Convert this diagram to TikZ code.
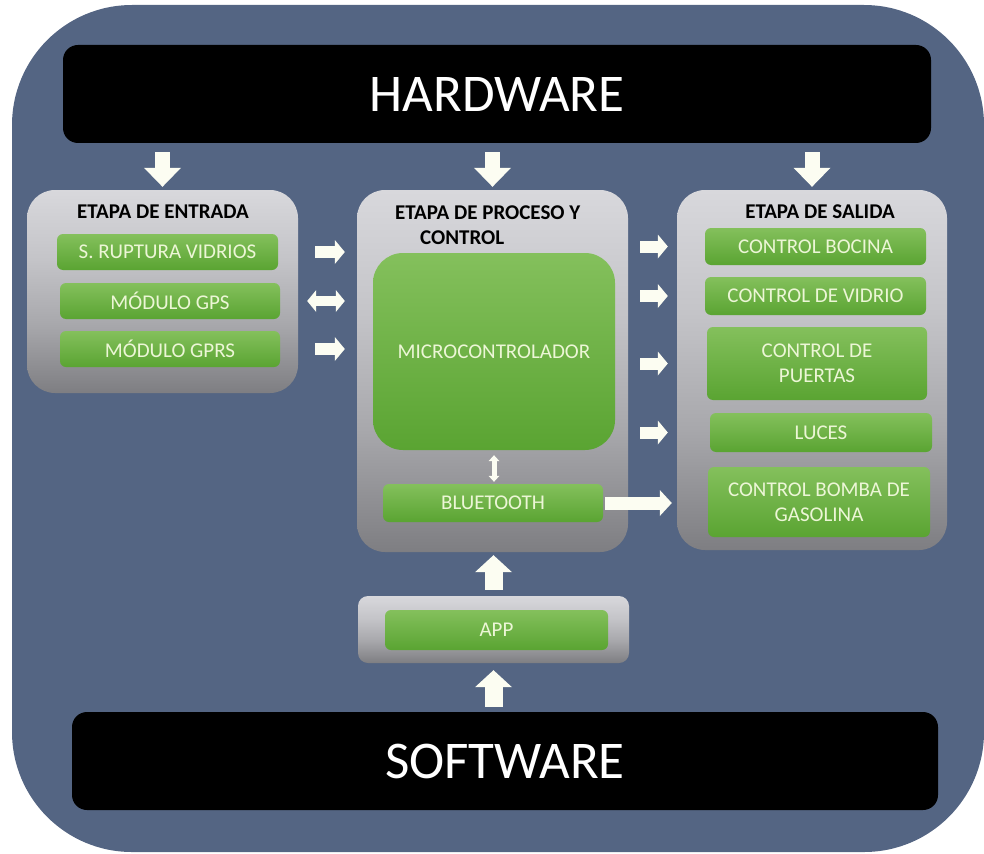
\documentclass[tikz,border=0pt]{standalone}
\usepackage{fontspec}
\setmainfont{Carlito}
\usetikzlibrary{arrows.meta}

\definecolor{bgblue}{RGB}{84,101,131}
\definecolor{gtop}{RGB}{132,192,92}
\definecolor{gbot}{RGB}{90,164,50}
\definecolor{gtext}{RGB}{236,246,214}
\definecolor{arrowwhite}{RGB}{252,253,242}
\definecolor{ptop}{RGB}{216,216,220}
\definecolor{pmid}{RGB}{196,196,200}
\definecolor{plow}{RGB}{168,168,172}
\definecolor{pbot}{RGB}{126,126,130}

% silver panel: light on top, darkening towards the bottom
\pgfdeclareverticalshading{panelshade}{100bp}{%
  color(0bp)=(pbot); color(25bp)=(pbot); color(42bp)=(plow);
  color(58bp)=(pmid); color(75bp)=(ptop); color(100bp)=(ptop)}

\tikzset{
  blackbar/.style={fill=black, rounded corners=15pt, text=white,
    font=\fontsize{53}{60}\selectfont, inner sep=0pt},
  panel/.style={shade, shading=panelshade, rounded corners=28pt, inner sep=0pt},
  greenbox/.style={top color=gtop, bottom color=gbot, rounded corners=6pt,
    text=gtext, font=\fontsize{21}{25}\selectfont, inner sep=0pt, align=center},
  paneltitle/.style={font=\bfseries\fontsize{21}{25}\selectfont, text=black,
    inner sep=0pt, align=left},
  flow/.style n args={3}{draw=arrowwhite, line width=#1,
    -{Triangle[width=#2,length=#3,line width=0pt]}},
  flowboth/.style n args={3}{draw=arrowwhite, line width=#1,
    {Triangle[width=#2,length=#3,line width=0pt]}-{Triangle[width=#2,length=#3,line width=0pt]}},
}

\begin{document}
\begin{tikzpicture}[x=1pt,y=-1pt]
\useasboundingbox (0,0) rectangle (984,853);

% backdrop
\fill[bgblue, rounded corners=120pt] (12,5) rectangle (984,852);

% top and bottom bars
\node[blackbar, minimum width=868pt, minimum height=98pt] (hardware) at (497,94) {HARDWARE};
\node[blackbar, minimum width=866pt, minimum height=98pt] (software) at (505,761) {SOFTWARE};

% stage panels
\node[panel, minimum width=271pt, minimum height=203pt] (entrada) at (162.5,291.5) {};
\node[panel, minimum width=271pt, minimum height=362pt] (proceso) at (492.5,371) {};
\node[panel, minimum width=270pt, minimum height=360pt] (salida) at (812,370) {};
\node[panel, rounded corners=10pt, minimum width=271pt, minimum height=67pt] (apppanel) at (493.5,629.5) {};

% panel titles
\node[paneltitle] (tentrada) at (163,212) {ETAPA DE ENTRADA};
\node[paneltitle, anchor=west] (tproceso) at (395,225.5) {ETAPA DE PROCESO Y\\\hspace*{25pt}CONTROL};
\node[paneltitle] (tsalida) at (820,212) {ETAPA DE SALIDA};

% input stage
\node[greenbox, minimum width=221pt, minimum height=36pt] (ruptura) at (167.5,252) {S. RUPTURA VIDRIOS};
\node[greenbox, minimum width=220pt, minimum height=36pt] (gps) at (170,301) {MÓDULO GPS};
\node[greenbox, minimum width=220pt, minimum height=36pt] (gprs) at (170,349) {MÓDULO GPRS};

% processing stage
\node[greenbox, rounded corners=30pt, minimum width=242pt, minimum height=197pt] (micro) at (494,351.5) {MICROCONTROLADOR};
\node[greenbox, minimum width=220pt, minimum height=38pt] (bluetooth) at (493,503) {BLUETOOTH};

% output stage
\node[greenbox, minimum width=221pt, minimum height=37pt] (bocina) at (815.5,246.5) {CONTROL BOCINA};
\node[greenbox, minimum width=221pt, minimum height=38pt] (vidrio) at (815.5,296) {CONTROL DE VIDRIO};
\node[greenbox, minimum width=220pt, minimum height=73pt] (puertas) at (817,363.5) {CONTROL DE\\PUERTAS};
\node[greenbox, minimum width=222pt, minimum height=39pt] (luces) at (821,432.5) {LUCES};
\node[greenbox, minimum width=222pt, minimum height=70pt] (bomba) at (819,502) {CONTROL BOMBA DE\\GASOLINA};

% app
\node[greenbox, minimum width=223pt, minimum height=40pt] (app) at (496.5,630) {APP};

% hardware feeds each stage
\draw[flow={15pt}{37pt}{19pt}, shorten <=9pt, shorten >=3pt] (hardware.south -| entrada.north) -- (entrada.north);
\draw[flow={15pt}{37pt}{19pt}, shorten <=9pt, shorten >=3pt] (hardware.south -| proceso.north) -- (proceso.north);
\draw[flow={15pt}{37pt}{19pt}, shorten <=9pt, shorten >=3pt] (hardware.south -| salida.north) -- (salida.north);

% input stage to processing
\draw[flow={12pt}{24pt}{10pt}, shorten <=17pt, shorten >=12pt] (ruptura.east -| entrada.east) -- (ruptura.east -| proceso.west);
\draw[flowboth={10pt}{22pt}{9pt}, shorten <=9pt, shorten >=12pt] (gps.east -| entrada.east) -- (gps.east -| proceso.west);
\draw[flow={12pt}{24pt}{10pt}, shorten <=17pt, shorten >=12pt] (gprs.east -| entrada.east) -- (gprs.east -| proceso.west);

% processing to outputs
\draw[flow={12pt}{24pt}{10pt}, shorten <=12pt, shorten >=9pt] (bocina.west -| proceso.east) -- (bocina.west -| salida.west);
\draw[flow={12pt}{24pt}{10pt}, shorten <=12pt, shorten >=9pt] (vidrio.west -| proceso.east) -- (vidrio.west -| salida.west);
\draw[flow={12pt}{24pt}{10pt}, shorten <=12pt, shorten >=9pt] (puertas.west -| proceso.east) -- (puertas.west -| salida.west);
\draw[flow={12pt}{24pt}{10pt}, shorten <=12pt, shorten >=9pt] (luces.west -| proceso.east) -- (luces.west -| salida.west);
\draw[flow={13pt}{26pt}{12pt}, shorten <=2pt, shorten >=5pt] (bluetooth.east) -- (bluetooth.east -| salida.west);

% microcontroller <-> bluetooth
\draw[flowboth={5pt}{11pt}{6pt}, shorten <=5pt, shorten >=2pt] (micro.south) -- (micro.south |- bluetooth.north);

% software up through the app
\draw[flow={18pt}{37pt}{17pt}, shorten <=5pt, shorten >=7pt] (apppanel.south |- software.north) -- (apppanel.south);
\draw[flow={18pt}{37pt}{17pt}, shorten <=6pt, shorten >=3pt] (apppanel.north) -- (apppanel.north |- proceso.south);
\end{tikzpicture}
\end{document}
